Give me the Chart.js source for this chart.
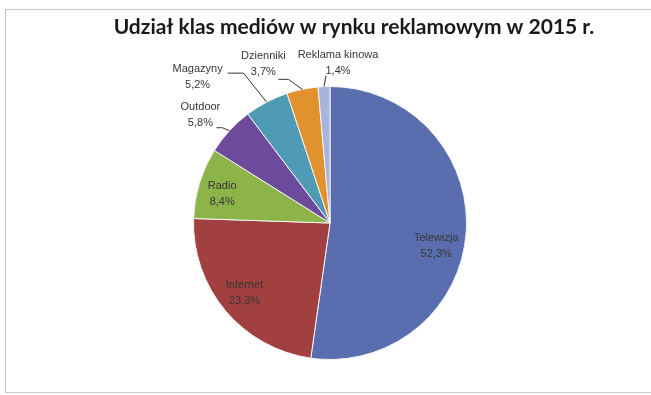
<!DOCTYPE html>
<html>
<head>
<meta charset="utf-8">
<script src="https://cdn.jsdelivr.net/npm/chart.js@4.4.1/dist/chart.umd.min.js"></script>
<style>
  html, body { margin: 0; padding: 0; background: #fff; }
  #wrap { position: relative; width: 651px; height: 395px; overflow: hidden; }
  #frame { position: absolute; left: 5px; top: 9px; width: 700px; height: 382px; border: 1px solid #c6c6c6; }
  canvas { position: absolute; left: 0; top: 0; }
</style>
</head>
<body>
<div id="wrap">
  <div id="frame"></div>
  <canvas id="pie" width="651" height="395"></canvas>
</div>
<script>
const titleText = 'Udział klas mediów w rynku reklamowym w 2015 r.';
const categories = ['Telewizja', 'Internet', 'Radio', 'Outdoor', 'Magazyny', 'Dzienniki', 'Reklama kinowa'];
const shares = [52.3, 23.3, 8.4, 5.8, 5.2, 3.7, 1.4];
const shareLabels = ['52,3%', '23,3%', '8,4%', '5,8%', '5,2%', '3,7%', '1,4%'];
const colors = ['#5a6dae', '#a2403f', '#8db448', '#6c4a9c', '#4f9bb6', '#e2912f', '#a7b4dc'];

// how each label sits: inside the slice, or outside with a leader line (offsets from the slice edge)
const placement = [
  { inside: true, f: 0.78, dx: 0, dy: 15 },
  { inside: true, f: 0.78, dx: -4, dy: 2 },
  { inside: true, f: 0.78, dx: -6, dy: 2 },
  { inside: false, dx: -29, dy: -16, line: [[-7, -3], [-13, -3]] },
  { inside: false, dx: -69, dy: -25, line: [[-23, -29], [-39, -29]] },
  { inside: false, dx: -39, dy: -25, line: [[-14, -10], [-24, -10]] },
  { inside: false, dx: 14, dy: -24, line: [[2, -11]] }
];

const labelPlugin = {
  id: 'sliceLabels',
  afterDatasetsDraw(chart) {
    const ctx = chart.ctx;
    const arcs = chart.getDatasetMeta(0).data;
    ctx.save();
    ctx.font = '11px "Liberation Sans", Arial, sans-serif';
    ctx.fillStyle = '#363636';
    ctx.strokeStyle = '#363636';
    ctx.lineWidth = 1;
    ctx.textAlign = 'center';
    ctx.textBaseline = 'middle';
    arcs.forEach((arc, i) => {
      const p = placement[i];
      const a = (arc.startAngle + arc.endAngle) / 2;
      const cx = arc.x, cy = arc.y, R = arc.outerRadius;
      let tx, ty;
      if (p.inside) {
        tx = cx + Math.cos(a) * R * p.f + p.dx;
        ty = cy + Math.sin(a) * R * p.f + p.dy;
      } else {
        const ex = cx + Math.cos(a) * R;
        const ey = cy + Math.sin(a) * R;
        ctx.beginPath();
        ctx.moveTo(ex, ey);
        p.line.forEach(pt => ctx.lineTo(ex + pt[0], ey + pt[1]));
        ctx.stroke();
        tx = ex + p.dx;
        ty = ey + p.dy;
      }
      ctx.fillText(categories[i], tx, ty - 8);
      ctx.fillText(shareLabels[i], tx, ty + 8);
    });
    ctx.restore();
  }
};

const titlePlugin = {
  id: 'chartTitle',
  afterDraw(chart) {
    const ctx = chart.ctx;
    ctx.save();
    ctx.font = 'bold 21px Lato, "Liberation Sans", sans-serif';
    ctx.fillStyle = '#1a1a1a';
    ctx.textAlign = 'center';
    ctx.textBaseline = 'middle';
    ctx.fillText(titleText, 354, 27);
    ctx.restore();
  }
};

new Chart(document.getElementById('pie'), {
  type: 'pie',
  data: {
    labels: categories,
    datasets: [{
      data: shares,
      backgroundColor: colors,
      borderColor: '#f4f4f4',
      borderWidth: 1
    }]
  },
  options: {
    responsive: false,
    animation: false,
    layout: { padding: { top: 86, bottom: 35, left: 193, right: 184 } },
    plugins: {
      legend: { display: false },
      tooltip: { enabled: false }
    }
  },
  plugins: [labelPlugin, titlePlugin]
});
</script>
</body>
</html>
